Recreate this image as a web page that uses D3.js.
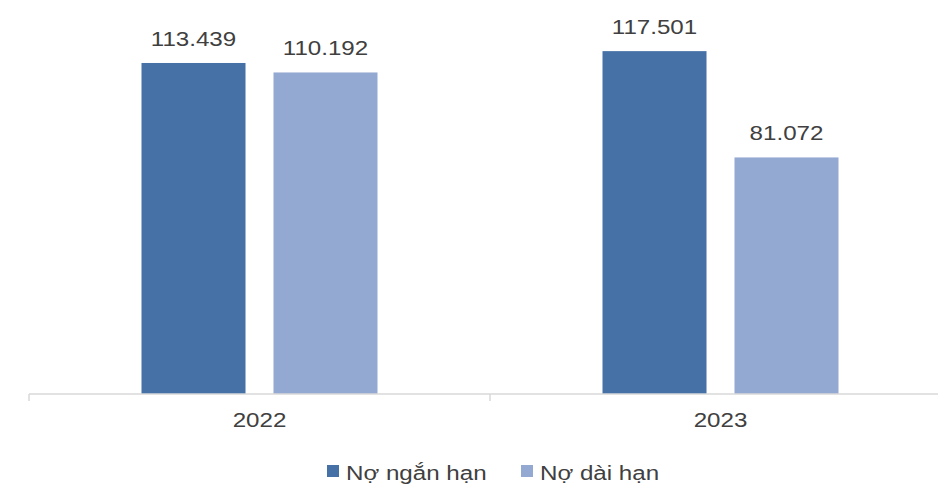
<!DOCTYPE html>
<html>
<head>
<meta charset="utf-8">
<script src="https://cdn.jsdelivr.net/npm/d3@7"></script>
<style>
  html, body { margin: 0; padding: 0; background: #fff; }
  svg text { font-family: "Liberation Sans", Arial, sans-serif; fill: #404040; }
</style>
</head>
<body>
<svg id="chart" width="938" height="485"></svg>
<script>
// Debt structure by year (short-term vs long-term)
const years = ["2022", "2023"];
const seriesNames = ["Nợ ngắn hạn", "Nợ dài hạn"];
const shortTerm = [113.439, 117.501];
const longTerm = [110.192, 81.072];
const colors = ["#4571a7", "#94a9d2"];

const fmt = v => v.toFixed(3);
const stretch = 1.15; // wide lettering

const svg = d3.select("#chart");
const baseY = 394;

const x = d3.scaleBand().domain(years).range([29, 951]).paddingInner(0).paddingOuter(0);
const inner = d3.scaleBand().domain(seriesNames).range([0, 236]).paddingInner(0.212);
const y = d3.scaleLinear().domain([0, 120]).range([baseY, baseY - 120 * 2.918]);

const rows = years.map((yr, i) => ({ year: yr, values: [shortTerm[i], longTerm[i]] }));

// text placed at (px, py), stretched horizontally around its anchor
function wideText(sel, px, py) {
  return sel.attr("transform", d => `translate(${px(d)},${py(d)}) scale(${stretch},1)`);
}

const groups = svg.selectAll("g.year").data(rows).join("g")
  .attr("class", "year")
  .attr("transform", d => `translate(${x(d.year) + (x.bandwidth() - 236) / 2},0)`);

groups.selectAll("rect").data(d => d.values.map((v, k) => ({ v, k })))
  .join("rect")
  .attr("x", d => inner(seriesNames[d.k]))
  .attr("width", inner.bandwidth())
  .attr("y", d => y(d.v))
  .attr("height", d => baseY - y(d.v))
  .attr("fill", d => colors[d.k]);

groups.selectAll("text.val").data(d => d.values.map((v, k) => ({ v, k })))
  .join("text")
  .attr("class", "val")
  .attr("text-anchor", "middle")
  .style("font-size", "21px")
  .call(wideText, d => inner(seriesNames[d.k]) + inner.bandwidth() / 2, d => y(d.v) - 17)
  .text(d => fmt(d.v));

// Category axis along the baseline
const axis = svg.append("g").attr("transform", `translate(0,${baseY})`);
axis.append("line").attr("x1", 29).attr("x2", 938).attr("y1", 0).attr("y2", 0)
  .attr("stroke", "#d9d9d9").attr("stroke-width", 1.5);
const bounds = [x.range()[0]].concat(years.map(yr => x(yr) + x.bandwidth()));
axis.selectAll("line.tick").data(bounds).join("line")
  .attr("class", "tick")
  .attr("x1", d => d).attr("x2", d => d).attr("y1", 0).attr("y2", 7)
  .attr("stroke", "#d9d9d9").attr("stroke-width", 1.5);
axis.selectAll("text").data(years).join("text")
  .attr("text-anchor", "middle")
  .style("font-size", "21px")
  .call(wideText, d => x(d) + x.bandwidth() / 2, () => 33)
  .text(d => d);

// Legend
const legendItems = [{ name: seriesNames[0], x: 327 }, { name: seriesNames[1], x: 521 }];
const legend = svg.append("g");
legendItems.forEach((it, k) => {
  legend.append("rect").attr("x", it.x).attr("y", 465).attr("width", 12).attr("height", 12)
    .attr("fill", colors[k]);
  legend.append("text")
    .style("font-size", "21px")
    .attr("transform", `translate(${it.x + 19},480) scale(${stretch},1)`)
    .text(it.name);
});
</script>
</body>
</html>
